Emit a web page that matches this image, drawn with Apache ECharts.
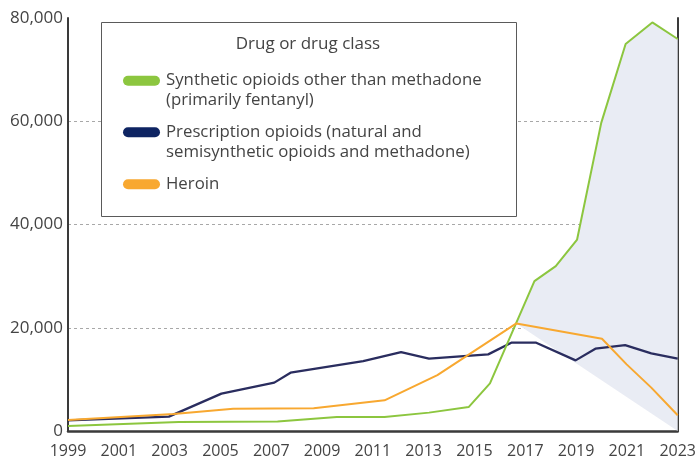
<!DOCTYPE html>
<html>
<head>
<meta charset="utf-8">
<script src="https://cdn.jsdelivr.net/npm/echarts@6/dist/echarts.min.js"></script>
<style>
html,body{margin:0;padding:0;background:#fff;}
#chart{width:699px;height:459px;}
</style>
</head>
<body>
<div id="chart"></div>
<script>
// ---- data ----
const syntheticYears  = [1999, 2003.36, 2007.25, 2009.58, 2011.46, 2013.21, 2014.77, 2015.61, 2017.36, 2018.2, 2019.04, 2019.99, 2020.95, 2022, 2023];
const syntheticValues = [970, 1740, 1820, 2710, 2710, 3560, 4640, 9230, 29030, 31930, 37090, 59680, 74960, 79140, 75930];

const prescriptionYears  = [1999, 2002.97, 2005.04, 2007.12, 2007.76, 2010.62, 2012.11, 2013.21, 2015.54, 2016.45, 2017.43, 2018.98, 2019.76, 2020.93, 2021.96, 2023];
const prescriptionValues = [2070, 2790, 7240, 9370, 11300, 13550, 15290, 14010, 14840, 17100, 17100, 13680, 15940, 16640, 15030, 14010];

const heroinYears  = [1999, 2003.16, 2005.5, 2008.67, 2011.46, 2013.54, 2016.65, 2020.02, 2020.99, 2021.96, 2023];
const heroinValues = [2130, 3290, 4330, 4390, 5940, 10840, 20840, 17880, 12910, 8400, 3040];

const firstYear = 1999;
const lastYear = 2023;
const yTicks = [0, 20000, 40000, 60000, 80000];

const legendTitle = 'Drug or drug class';
const seriesNames = [
  'Synthetic opioids other than methadone\n(primarily fentanyl)',
  'Prescription opioids (natural and\nsemisynthetic opioids and methadone)',
  'Heroin'
];
const lineColors = ['#8cc63f', '#2a2d5f', '#f8a830'];
const swatchColors = ['#8cc63f', '#0e2462', '#f8a830'];

// ---- build ----
const pairs = (xs, ys) => xs.map((x, i) => [x - firstYear, ys[i]]);
const synthetic = pairs(syntheticYears, syntheticValues);
const prescription = pairs(prescriptionYears, prescriptionValues);
const heroin = pairs(heroinYears, heroinValues);

// shaded region: from heroin peak along synthetic line to the end, down to zero
let peakIdx = 0;
heroinValues.forEach((v, i) => { if (v > heroinValues[peakIdx]) peakIdx = i; });
const peakPoint = heroin[peakIdx];
const shadePts = [peakPoint].concat(synthetic.filter(p => p[0] > peakPoint[0])).concat([[lastYear - firstYear, 0]]);

const FONT = '"Open Sans", sans-serif';
const TXT = '#444';

const chart = echarts.init(document.getElementById('chart'), null, {renderer: 'canvas'});

const legendGraphics = [
  {type: 'rect', z: 100, shape: {x: 101.5, y: 22.5, width: 415, height: 194},
   style: {fill: '#fff', stroke: '#5a5a5a', lineWidth: 1}},
  {type: 'text', z: 101, x: 308, y: 44,
   style: {text: legendTitle, fill: TXT, font: '17px ' + FONT, align: 'center', verticalAlign: 'middle'}}
];
const rowY = [80.7, 132.3, 184.3];
seriesNames.forEach((name, i) => {
  legendGraphics.push({type: 'rect', z: 101, shape: {x: 123, y: rowY[i] - 5, width: 37, height: 10, r: 5},
    style: {fill: swatchColors[i]}});
  legendGraphics.push({type: 'text', z: 101, x: 166, y: rowY[i] - 10,
    style: {text: name, fill: TXT, font: '16.8px ' + FONT, lineHeight: 20, align: 'left', verticalAlign: 'top'}});
});

const option = {
  animation: false,
  backgroundColor: '#fff',
  grid: {left: 68, right: 14, top: 18, bottom: 27, containLabel: false},
  xAxis: {
    type: 'value', min: 0, max: lastYear - firstYear, interval: 2,
    axisLine: {show: true, lineStyle: {color: '#3a3a3a', width: 2.5}},
    axisTick: {show: false},
    splitLine: {show: false},
    axisLabel: {margin: 12, color: TXT, fontFamily: FONT, fontSize: 16,
      formatter: v => String(v + firstYear)}
  },
  yAxis: [{
    type: 'value', min: yTicks[0], max: yTicks[yTicks.length - 1], interval: yTicks[1] - yTicks[0],
    axisLine: {show: true, lineStyle: {color: '#3a3a3a', width: 2}},
    axisTick: {show: false},
    splitLine: {show: true, showMinLine: false, showMaxLine: false,
      lineStyle: {color: '#a8a8a8', type: [3, 3], width: 1}},
    axisLabel: {margin: 5, color: TXT, fontFamily: FONT, fontSize: 17,
      formatter: v => v.toLocaleString('en-US')}
  }, {
    type: 'value', position: 'right', min: yTicks[0], max: yTicks[yTicks.length - 1],
    axisLine: {show: true, lineStyle: {color: '#3a3a3a', width: 2}},
    axisTick: {show: false}, axisLabel: {show: false}, splitLine: {show: false}
  }],
  series: [
    {
      type: 'custom', silent: true, z: 1,
      data: [0],
      renderItem: (params, api) => ({
        type: 'polygon',
        shape: {points: shadePts.map(p => api.coord(p))},
        style: {fill: '#e9ecf4'}
      })
    },
    {name: seriesNames[0], type: 'line', data: synthetic, showSymbol: false, z: 3,
     lineStyle: {color: lineColors[0], width: 2}, itemStyle: {color: lineColors[0]}},
    {name: seriesNames[1], type: 'line', data: prescription, showSymbol: false, z: 2,
     lineStyle: {color: lineColors[1], width: 2.3}, itemStyle: {color: lineColors[1]}},
    {name: seriesNames[2], type: 'line', data: heroin, showSymbol: false, z: 4,
     lineStyle: {color: lineColors[2], width: 2}, itemStyle: {color: lineColors[2]}}
  ],
  graphic: legendGraphics
};
chart.setOption(option);
</script>
</body>
</html>
